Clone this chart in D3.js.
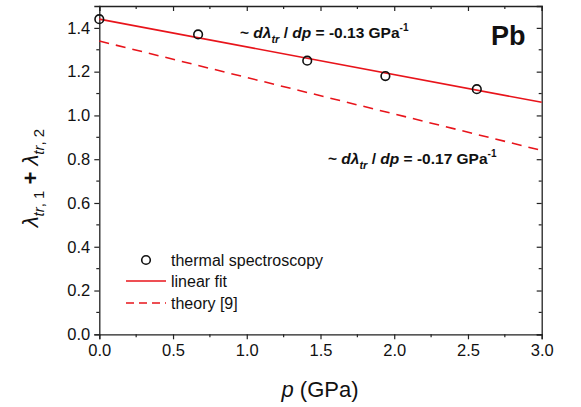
<!DOCTYPE html>
<html>
<head>
<meta charset="utf-8">
<script src="https://cdn.jsdelivr.net/npm/d3@7"></script>
<style>
  body { margin: 0; background: #fff; }
  svg text { font-family: "Liberation Sans", Arial, sans-serif !important; }
</style>
</head>
<body>
<svg width="581" height="407" font-family="Liberation Sans"></svg>
<script>
// measured data (thermal spectroscopy)
const pressure = [0, 0.67, 1.41, 1.94, 2.56];
const lambdaSum = [1.44, 1.37, 1.25, 1.18, 1.12];
// linear fit end points and theory [9] end points
const fitP = [0, 3.0];
const fitVals = [1.44, 1.06];
const theoryP = [0, 3.0];
const theoryVals = [1.34, 0.84];
const xTicks = [0, 0.5, 1.0, 1.5, 2.0, 2.5, 3.0];
const yTicks = [0, 0.2, 0.4, 0.6, 0.8, 1.0, 1.2, 1.4];

const svg = d3.select('svg');
const margin = {left: 99.3, right: 39.3, top: 6, bottom: 72.7};
const W = 581, H = 407;

const x = d3.scaleLinear().domain([0, 3]).range([margin.left, W - margin.right]);
const y = d3.scaleLinear().domain([0, 1.5]).range([H - margin.bottom, margin.top]);

const red = '#e8141b';

// axes
const xAxis = svg.append('g').attr('transform', `translate(0,${y(0)})`)
  .call(d3.axisBottom(x).tickValues(xTicks).tickFormat(d3.format('.1f')).tickSize(5).tickPadding(5));
const yAxis = svg.append('g').attr('transform', `translate(${x(0)},0)`)
  .call(d3.axisLeft(y).tickValues(yTicks).tickFormat(d3.format('.1f')).tickSize(5).tickPadding(4));
[xAxis, yAxis].forEach(g => {
  g.attr('font-family', null);
  g.selectAll('text').style('font-size', '16.5px').attr('fill', '#111');
  g.select('.domain').attr('stroke', '#222').attr('stroke-width', 1.3);
  g.selectAll('.tick line').attr('stroke', '#222').attr('stroke-width', 1.2);
});

// minor ticks
const xMinor = d3.range(0.25, 3, 0.5);
const yMinor = d3.range(0.1, 1.5, 0.2);
svg.append('g').selectAll('line').data(xMinor).join('line')
  .attr('x1', d => x(d)).attr('x2', d => x(d))
  .attr('y1', y(0)).attr('y2', y(0) + 3).attr('stroke', '#222').attr('stroke-width', 1.2);
svg.append('g').selectAll('line').data(yMinor).join('line')
  .attr('y1', d => y(d)).attr('y2', d => y(d))
  .attr('x1', x(0)).attr('x2', x(0) - 3).attr('stroke', '#222').attr('stroke-width', 1.2);

// top and right frame with inward ticks
const topAxis = svg.append('g').attr('transform', `translate(0,${y(1.5)})`)
  .call(d3.axisTop(x).tickValues(xTicks).tickFormat('').tickSize(-5));
const rightAxis = svg.append('g').attr('transform', `translate(${x(3)},0)`)
  .call(d3.axisRight(y).tickValues(yTicks).tickFormat('').tickSize(-5));
[topAxis, rightAxis].forEach(g => {
  g.select('.domain').attr('stroke', '#222').attr('stroke-width', 1.3);
  g.selectAll('.tick line').attr('stroke', '#222').attr('stroke-width', 1.2);
});
svg.append('g').selectAll('line').data(xMinor).join('line')
  .attr('x1', d => x(d)).attr('x2', d => x(d))
  .attr('y1', y(1.5)).attr('y2', y(1.5) + 3).attr('stroke', '#222').attr('stroke-width', 1.2);
svg.append('g').selectAll('line').data(yMinor).join('line')
  .attr('y1', d => y(d)).attr('y2', d => y(d))
  .attr('x1', x(3)).attr('x2', x(3) - 3).attr('stroke', '#222').attr('stroke-width', 1.2);

// lines
const line = d3.line().x(d => x(d[0])).y(d => y(d[1]));
svg.append('path').datum(d3.zip(fitP, fitVals)).attr('d', line)
  .attr('fill', 'none').attr('stroke', red).attr('stroke-width', 1.6);
svg.append('path').datum(d3.zip(theoryP, theoryVals)).attr('d', line)
  .attr('fill', 'none').attr('stroke', red).attr('stroke-width', 1.6).attr('stroke-dasharray', '10,7');

// points
svg.append('g').selectAll('circle').data(d3.zip(pressure, lambdaSum)).join('circle')
  .attr('cx', d => x(d[0])).attr('cy', d => y(d[1])).attr('r', 4.3)
  .attr('fill', 'none').attr('stroke', '#111').attr('stroke-width', 1.6);

// annotations
function slopeLabel(xp, yp, val) {
  const t = svg.append('text').attr('x', xp).attr('y', yp)
    .style('font-size', '15.5px').style('font-weight', 'bold').attr('fill', '#111');
  t.append('tspan').text('~ ');
  t.append('tspan').style('font-style', 'italic').text('dλ');
  t.append('tspan').style('font-style', 'italic').style('font-size', '11px').attr('dy', 5).text('tr');
  t.append('tspan').attr('dy', -5).text(' / ');
  t.append('tspan').style('font-style', 'italic').text('dp');
  t.append('tspan').text(' = ' + val + ' GPa');
  t.append('tspan').style('font-size', '10px').attr('dy', -7).text('-1');
}
slopeLabel(240, 38, '-0.13');
slopeLabel(328, 164, '-0.17');

svg.append('text').attr('x', 491).attr('y', 45).text('Pb')
  .style('font-size', '27px').style('font-weight', 'bold').attr('fill', '#111');

// legend
const lg = svg.append('g').style('font-size', '16px');
lg.append('circle').attr('cx', 146).attr('cy', 260).attr('r', 4.3)
  .attr('fill', 'none').attr('stroke', '#111').attr('stroke-width', 1.6);
lg.append('text').attr('x', 171).attr('y', 266).text('thermal spectroscopy').attr('fill', '#111');
lg.append('line').attr('x1', 126).attr('x2', 166).attr('y1', 281).attr('y2', 281)
  .attr('stroke', red).attr('stroke-width', 1.6);
lg.append('text').attr('x', 171).attr('y', 287).text('linear fit').attr('fill', '#111');
lg.append('line').attr('x1', 126).attr('x2', 166).attr('y1', 303).attr('y2', 303)
  .attr('stroke', red).attr('stroke-width', 1.6).attr('stroke-dasharray', '8,5');
lg.append('text').attr('x', 171).attr('y', 309).text('theory [9]').attr('fill', '#111');

// axis titles
svg.append('text').attr('x', 320).attr('y', 397).attr('text-anchor', 'middle')
  .style('font-size', '22px').attr('fill', '#111')
  .call(t => { t.append('tspan').style('font-style', 'italic').text('p'); t.append('tspan').text(' (GPa)'); });

const yl = svg.append('text').attr('transform', 'translate(38,178) rotate(-90)')
  .attr('text-anchor', 'middle').style('font-size', '22px').attr('fill', '#111');
yl.append('tspan').style('font-style', 'italic').text('λ');
yl.append('tspan').style('font-style', 'italic').style('font-size', '15px').attr('dy', 6).text('tr');
yl.append('tspan').style('font-size', '15px').text(', 1');
yl.append('tspan').attr('dy', -6).style('font-weight', 'bold').text(' + ');
yl.append('tspan').style('font-style', 'italic').text('λ');
yl.append('tspan').style('font-style', 'italic').style('font-size', '15px').attr('dy', 6).text('tr');
yl.append('tspan').style('font-size', '15px').text(', 2');
</script>
</body>
</html>
